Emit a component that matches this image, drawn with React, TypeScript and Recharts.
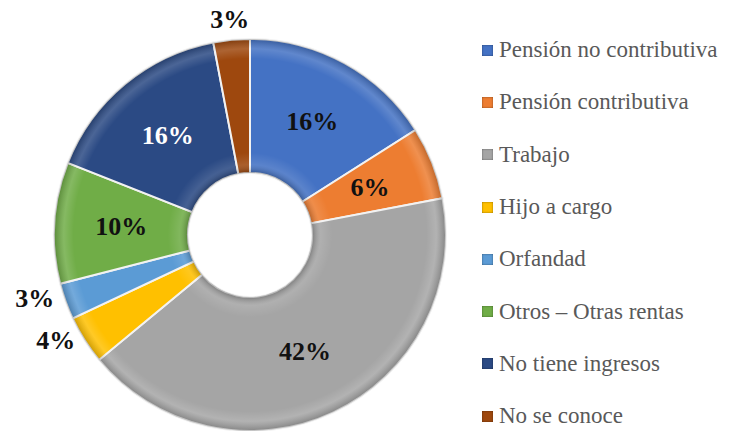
import { PieChart, Pie, Cell, Legend } from "recharts"

// Data
const categories = [
  "Pensión no contributiva",
  "Pensión contributiva",
  "Trabajo",
  "Hijo a cargo",
  "Orfandad",
  "Otros – Otras rentas",
  "No tiene ingresos",
  "No se conoce",
]
const shares = [16, 6, 42, 4, 3, 10, 16, 3]
const sliceColors = ["#4472C4", "#ED7D31", "#A5A5A5", "#FFC000", "#5B9BD5", "#70AD47", "#2B4A84", "#9E480E"]
const labelColors = ["#111", "#111", "#111", "#111", "#111", "#111", "#fff", "#111"]

const data = categories.map((name, i) => ({ name, value: shares[i] }))

const RADIAN = Math.PI / 180
const SERIF = "Liberation Serif, Tinos, Times New Roman, DejaVu Serif, serif"

const renderLabel = ({ cx, cy, midAngle, innerRadius, outerRadius, index, value }) => {
  // small slices get their label outside the ring
  const outside = value <= 4
  const r = outside ? outerRadius + 20 : (innerRadius + outerRadius) / 2
  const cos = Math.cos(-midAngle * RADIAN)
  let x = cx + r * cos
  let y = cy + r * Math.sin(-midAngle * RADIAN)
  if (outside && cos < -0.5) {
    x -= 12
    y -= 10
  }
  return (
    <text
      x={x}
      y={y}
      fill={outside ? "#111" : labelColors[index]}
      textAnchor="middle"
      dominantBaseline="central"
      style={{ fontFamily: SERIF, fontWeight: "bold", fontSize: 26 }}
    >
      {`${value}%`}
    </text>
  )
}

const renderLegend = () => (
  <div style={{ fontFamily: SERIF, fontSize: 23, color: "#595959" }}>
    {categories.map((name, i) => (
      <div key={name} style={{ display: "flex", alignItems: "center", height: 52.3 }}>
        <span
          style={{
            display: "inline-block",
            width: 11,
            height: 11,
            marginRight: 6,
            background: sliceColors[i],
            boxShadow: "inset 0 0 2px rgba(0,0,0,0.5)",
          }}
        />
        <span style={{ whiteSpace: "nowrap" }}>{name}</span>
      </div>
    ))}
  </div>
)

export default function App() {
  return (
    <div style={{ position: "absolute", left: 0, top: 0, width: 736, height: 431, background: "#fff" }}>
      <PieChart width={736} height={431} margin={{ top: 0, right: 0, bottom: 0, left: 0 }}>
        <defs>
          <radialGradient id="bevel" gradientUnits="userSpaceOnUse" cx={250} cy={235} r={196}>
            <stop offset="0.316" stopColor="#000" stopOpacity={0.25} />
            <stop offset="0.36" stopColor="#fff" stopOpacity={0.12} />
            <stop offset="0.42" stopColor="#fff" stopOpacity={0} />
            <stop offset="0.9" stopColor="#fff" stopOpacity={0} />
            <stop offset="0.95" stopColor="#fff" stopOpacity={0.15} />
            <stop offset="1" stopColor="#000" stopOpacity={0.2} />
          </radialGradient>
        </defs>
        <Pie
          data={data}
          dataKey="value"
          nameKey="name"
          cx={250}
          cy={235}
          innerRadius={62}
          outerRadius={196}
          startAngle={90}
          endAngle={-270}
          stroke="#f2f2f2"
          strokeWidth={2}
          labelLine={false}
          isAnimationActive={false}
        >
          {data.map((d, i) => (
            <Cell key={d.name} fill={sliceColors[i]} />
          ))}
        </Pie>
        <Pie
          data={data}
          dataKey="value"
          cx={250}
          cy={235}
          innerRadius={62}
          outerRadius={196}
          startAngle={90}
          endAngle={-270}
          fill="url(#bevel)"
          stroke="none"
          label={renderLabel}
          labelLine={false}
          legendType="none"
          isAnimationActive={false}
        />
        <Legend
          layout="vertical"
          content={renderLegend}
          wrapperStyle={{ position: "absolute", left: 482, top: 24, width: 254 }}
        />
      </PieChart>
    </div>
  )
}
